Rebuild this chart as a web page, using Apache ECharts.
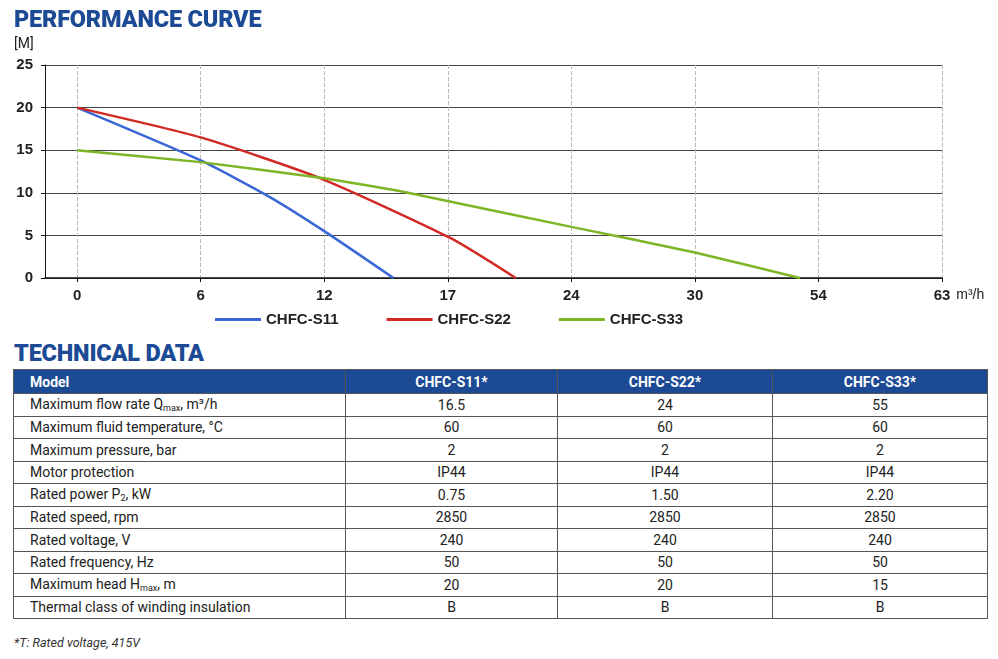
<!DOCTYPE html>
<html>
<head>
<meta charset="UTF-8">
<script src="https://cdn.jsdelivr.net/npm/echarts@6/dist/echarts.min.js"></script>
<style>
    body { margin: 0; width: 998px; height: 659px; background: #fff; font-family: Roboto, "Liberation Sans", sans-serif; position: relative; overflow: hidden; }
    .ttl { position: absolute; left: 14px; color: #1c4a94; font-weight: 900; font-size: 23.5px; letter-spacing: -0.2px; }
    #main { position: absolute; left: 0; top: 0; width: 998px; height: 335px; }
    table { position: absolute; left: 13px; top: 369px; width: 975px; border-collapse: collapse; table-layout: fixed; font-size: 14px; color: #222; }
    td, th { border: 1px solid #555; height: 21.5px; padding: 0; text-align: center; }
    th { background: #1c4a94; color: #fff; font-weight: bold; height: 23px; }
    td:first-child, th:first-child { text-align: left; padding-left: 16px; }
    sub { font-size: 9px; vertical-align: -2px; }
    .note { position: absolute; left: 14px; top: 635px; font-size: 12.5px; font-style: italic; color: #333; }
</style>
</head>
<body>
<div id="main"></div>
<div class="ttl" style="top:5px">PERFORMANCE CURVE</div>
<div style="position:absolute;left:14px;top:35px;font-size:14px;color:#222">[M]</div>
<div class="ttl" style="top:339px">TECHNICAL DATA</div>
<table>
    <colgroup><col style="width:332px"><col style="width:212px"><col style="width:215px"><col></colgroup>
    <tr><th>Model</th><th>CHFC-S11*</th><th>CHFC-S22*</th><th>CHFC-S33*</th></tr>
    <tr><td>Maximum flow rate Q<sub>max</sub>, m³/h</td><td>16.5</td><td>24</td><td>55</td></tr>
    <tr><td>Maximum fluid temperature, °C</td><td>60</td><td>60</td><td>60</td></tr>
    <tr><td>Maximum pressure, bar</td><td>2</td><td>2</td><td>2</td></tr>
    <tr><td>Motor protection</td><td>IP44</td><td>IP44</td><td>IP44</td></tr>
    <tr><td>Rated power P<sub>2</sub>, kW</td><td>0.75</td><td>1.50</td><td>2.20</td></tr>
    <tr><td>Rated speed, rpm</td><td>2850</td><td>2850</td><td>2850</td></tr>
    <tr><td>Rated voltage, V</td><td>240</td><td>240</td><td>240</td></tr>
    <tr><td>Rated frequency, Hz</td><td>50</td><td>50</td><td>50</td></tr>
    <tr><td>Maximum head H<sub>max</sub>, m</td><td>20</td><td>20</td><td>15</td></tr>
    <tr><td>Thermal class of winding insulation</td><td>B</td><td>B</td><td>B</td></tr>
</table>
<div class="note">*T: Rated voltage, 415V</div>
<script>
    // x-axis labels are evenly spaced; data x is the position along that axis (0..7)
    var xLabels = ['0', '6', '12', '17', '24', '30', '54', '63'];
    var s11 = [[0, 20], [1, 13.8], [1.56, 9.5], [2.0, 5.5], [2.56, 0]];
    var s22 = [[0, 20], [1, 16.5], [1.97, 11.7], [3.02, 4.7], [3.55, 0]];
    var s33 = [[0, 15], [1, 13.6], [2, 11.7], [2.61, 10.2], [4, 6], [5, 3], [5.85, 0]];
    var ticks = [0, 1, 2, 3, 4, 5, 6, 7];

    var myChart = echarts.init(document.getElementById('main'));
    var option = {
        animation: false,
        grid: { left: 45, right: 56, top: 65, bottom: 57 },
        legend: {
            bottom: 3, left: 210, itemWidth: 46, itemHeight: 3, itemGap: 48,
            icon: 'rect',
            textStyle: { fontSize: 15, fontWeight: 'bold', color: '#222' },
            data: ['CHFC-S11', 'CHFC-S22', 'CHFC-S33']
        },
        xAxis: {
            type: 'value', min: -0.26, max: 7,
            name: 'm³/h', nameGap: 7, nameTextStyle: { fontSize: 14, color: '#222', verticalAlign: 'top', padding: [10, 0, 0, 0] },
            axisLine: { lineStyle: { color: '#111', width: 1.5 } },
            axisTick: { show: true, customValues: ticks, length: 4, lineStyle: { color: '#111' } },
            axisLabel: { customValues: ticks, formatter: function (v) { return xLabels[Math.round(v)]; }, fontSize: 15, fontWeight: 'bold', color: '#222', margin: 10 },
            splitLine: { show: true, lineStyle: { type: 'dashed', color: '#bbb' } }
        },
        yAxis: {
            type: 'value', min: 0, max: 25, interval: 5,
            axisLine: { show: true, onZero: false, lineStyle: { color: '#111' } },
            axisTick: { show: true, length: 4, lineStyle: { color: '#111' } },
            axisLabel: { fontSize: 15, fontWeight: 'bold', color: '#222', margin: 12 },
            splitLine: { lineStyle: { color: '#444' } }
        },
        series: [
            { name: 'CHFC-S11', type: 'line', data: s11, smooth: 0.2, showSymbol: false, color: '#3a67d6', lineStyle: { width: 2.5 } },
            { name: 'CHFC-S22', type: 'line', data: s22, smooth: 0.2, showSymbol: false, color: '#d12a22', lineStyle: { width: 2.5 } },
            { name: 'CHFC-S33', type: 'line', data: s33, smooth: 0.1, showSymbol: false, color: '#7cb526', lineStyle: { width: 2.5 } }
        ]
    };
    myChart.setOption(option);
</script>
</body>
</html>
